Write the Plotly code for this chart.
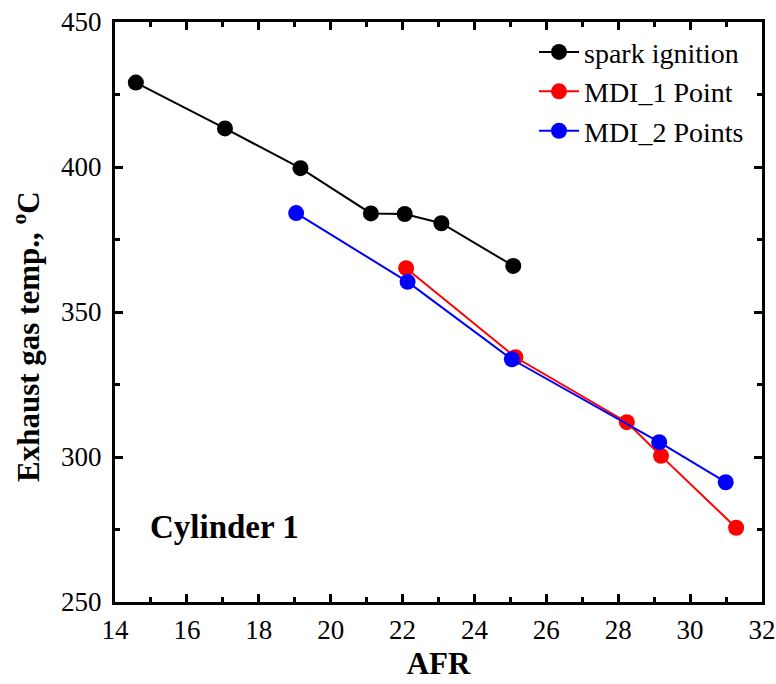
import plotly.graph_objects as go

spark_x = [14.58, 17.06, 19.16, 21.12, 22.06, 23.08, 25.08]
spark_y = [429.1, 413.3, 399.6, 384.0, 383.8, 380.6, 365.9]
mdi1_x = [22.10, 25.14, 28.24, 29.19, 31.28]
mdi1_y = [365.1, 334.4, 312.0, 300.4, 275.6]
mdi2_x = [19.04, 22.14, 25.04, 29.14, 30.99]
mdi2_y = [384.1, 360.4, 333.7, 305.1, 291.3]

FONT = "Liberation Serif"

fig = go.Figure()
for name, xs, ys, col in [("spark ignition", spark_x, spark_y, "black"),
                          ("MDI_1 Point", mdi1_x, mdi1_y, "red"),
                          ("MDI_2 Points", mdi2_x, mdi2_y, "blue")]:
    fig.add_trace(go.Scatter(x=xs, y=ys, mode="lines+markers", name=name,
                             line=dict(color=col, width=2),
                             marker=dict(color=col, size=16)))

axis_common = dict(showgrid=False, zeroline=False, showline=True, linecolor="black",
                   linewidth=3, mirror="ticks", ticks="inside", ticklen=8, tickwidth=2.5,
                   tickcolor="black", ticklabeloverflow="allow", automargin=False,
                   tickfont=dict(family=FONT, size=27, color="black"))

fig.update_xaxes(range=[14, 32], dtick=2, tick0=14, ticklabelstandoff=2,
                 minor=dict(dtick=1, ticks="inside", ticklen=5, tickwidth=2.5, tickcolor="black"),
                 title=dict(text="<b>AFR</b>", font=dict(family=FONT, size=31, color="black"), standoff=8),
                 **axis_common)
fig.update_yaxes(range=[250, 450], dtick=50, tick0=250, ticklabelstandoff=5,
                 minor=dict(dtick=25, ticks="inside", ticklen=5, tickwidth=2.5, tickcolor="black"),
                 **axis_common)

# y-axis title (placed as rotated annotation to match the reference's vertical offset)
fig.add_annotation(x=-0.1376, y=0.4586, xref="paper", yref="paper",
                   text="<b>Exhaust gas temp., <sup>o</sup>C</b>", showarrow=False, textangle=-90,
                   xanchor="center", yanchor="middle", font=dict(family=FONT, size=31, color="black"))

fig.add_annotation(x=14.92, y=275.9, xref="x", yref="y", text="<b>Cylinder 1</b>", showarrow=False,
                   xanchor="left", yanchor="middle", font=dict(family=FONT, size=33, color="black"))

fig.update_layout(width=776, height=684, plot_bgcolor="white", paper_bgcolor="white",
                  margin=dict(l=115, r=14, t=22, b=82),
                  legend=dict(x=0.6476, y=0.991, xanchor="left", yanchor="top",
                              font=dict(family=FONT, size=28, color="black"),
                              bgcolor="rgba(0,0,0,0)", tracegroupgap=0, itemwidth=40),
                  font=dict(family=FONT, color="black"))

fig.write_html("out.html", config={"displayModeBar": False},
               post_script="document.body.style.margin='0';document.body.style.overflow='hidden';")
